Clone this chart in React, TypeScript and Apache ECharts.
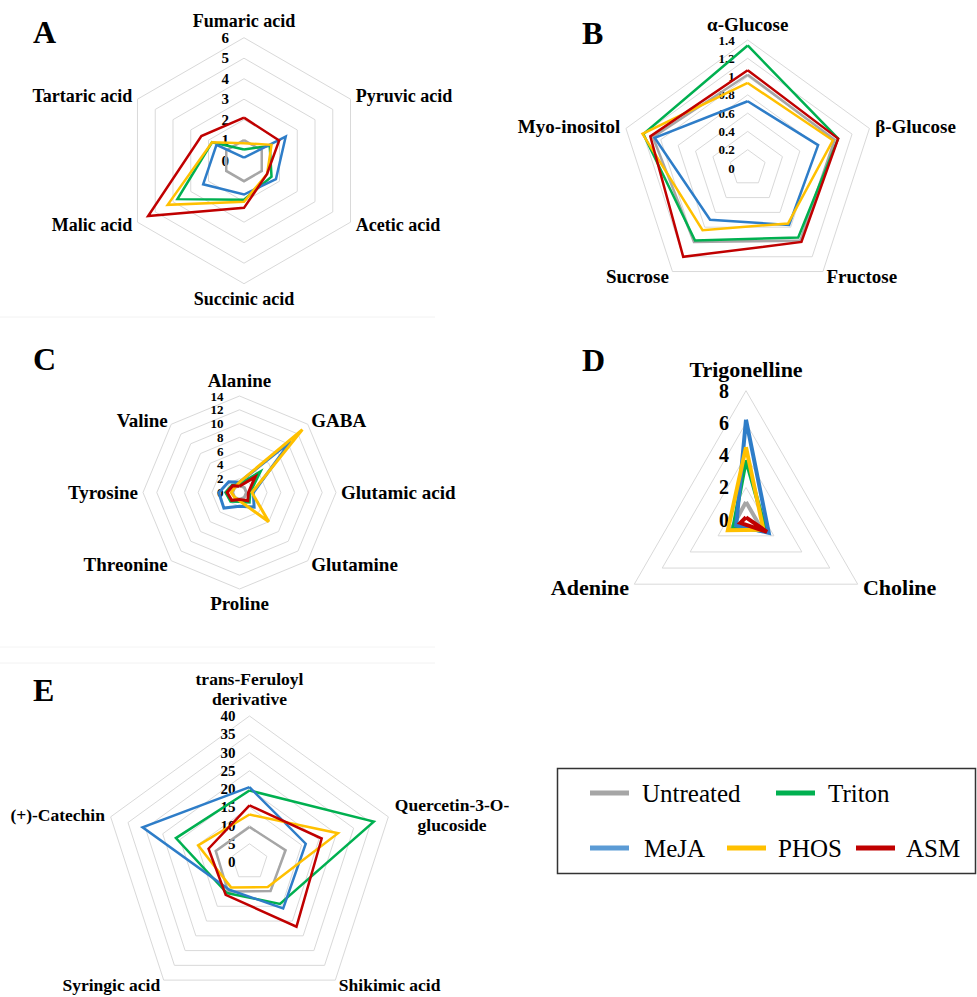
import React, { useEffect, useRef } from 'react';
import * as echarts from 'echarts';

const FONT = "'Liberation Serif', 'Times New Roman', serif";

const SERIES_NAMES = ['Untreated', 'Triton', 'MeJA', 'PHOS', 'ASM'];
const COLORS = ['#A6A6A6', '#00B050', '#2E7DC8', '#FFC000', '#C00000'];
const LEGEND_COLORS = ['#A6A6A6', '#00B050', '#5B9BD5', '#FFC000', '#C00000'];

// Panel A – organic acids (clockwise from top)
const CATS_A = ['Fumaric acid', 'Pyruvic acid', 'Acetic acid', 'Succinic acid', 'Malic acid', 'Tartaric acid'];
const A_UNTREATED = [1, 1, 1, 1, 1, 1];
const A_TRITON = [0.55, 1.45, 1.55, 1.9, 3.75, 1.8];
const A_MEJA = [0.15, 2.35, 1.8, 1.65, 2.3, 1.55];
const A_PHOS = [0.85, 1.55, 1.3, 2.0, 4.3, 1.8];
const A_ASM = [2.1, 1.98, 1.3, 2.3, 5.4, 2.4];

// Panel B – sugars
const CATS_B = ['α-Glucose', 'β-Glucose', 'Fructose', 'Sucrose', 'Myo-inositol'];
const B_UNTREATED = [1.02, 1.0, 0.98, 1.0, 1.09];
const B_TRITON = [1.34, 1.04, 0.94, 0.98, 1.2];
const B_MEJA = [0.73, 0.81, 0.77, 0.7, 1.07];
const B_PHOS = [0.93, 0.98, 0.75, 0.84, 1.21];
const B_ASM = [1.07, 1.04, 1.0, 1.2, 1.12];

// Panel C – amino acids
const CATS_C = ['Alanine', 'GABA', 'Glutamic acid', 'Glutamine', 'Proline', 'Threonine', 'Tyrosine', 'Valine'];
const C_UNTREATED = [1, 1, 1, 1, 1, 1, 1, 1];
const C_TRITON = [1.2, 4.2, 1.5, 2.0, 1.3, 1.8, 2.0, 1.5];
const C_MEJA = [1.5, 10.5, 2.0, 3.0, 2.0, 3.2, 3.0, 2.2];
const C_PHOS = [1.5, 12.9, 1.8, 6.0, 1.2, 1.0, 1.2, 1.0];
const C_ASM = [0.9, 3.2, 1.3, 1.7, 1.0, 1.6, 1.8, 1.4];

// Panel D
const CATS_D = ['Trigonelline', 'Choline', 'Adenine'];
const D_UNTREATED = [1.1, 1.1, 1.0];
const D_TRITON = [3.7, 1.45, 0.9];
const D_MEJA = [6.2, 1.63, 0.7];
const D_PHOS = [4.5, 1.25, 1.3];
const D_ASM = [0.15, 1.5, 0.4];

// Panel E – phenolics
const CATS_E = ['trans-Feruloyl\nderivative', 'Quercetin-3-O-glucoside', 'Shikimic acid', 'Syringic acid', '(+)-Catechin'];
const E_UNTREATED = [9.6, 10.4, 9.8, 10, 9.7];
const E_TRITON = [19.6, 35.8, 14.2, 10.5, 21.2];
const E_MEJA = [20.5, 16.2, 15.7, 9.4, 30.8];
const E_PHOS = [13, 25.5, 8.5, 8.6, 14.8];
const E_ASM = [15.5, 20.8, 21.9, 11.1, 11.8];

const PANEL_LETTERS = ['A', 'B', 'C', 'D', 'E'];

// ECharts lays indicators counter‑clockwise; reorder clockwise lists.
function ccwOrder(n: number): number[] {
  const out = [0];
  for (let i = n - 1; i >= 1; i--) out.push(i);
  return out;
}

function makeRadar(
  cats: string[], cx: number, cy: number, r: number, max: number, split: number,
  nameSize: number, tickSize: number, nameGap: number, labelMargin: number,
  lineHeight?: number
) {
  const order = ccwOrder(cats.length);
  return {
    center: [cx, cy],
    radius: r,
    startAngle: 90,
    shape: 'polygon',
    splitNumber: split,
    nameGap,
    axisName: {
      color: '#000',
      fontSize: nameSize,
      fontWeight: 'bold',
      fontFamily: FONT,
      lineHeight: lineHeight,
      formatter: (name: string) =>
        name === 'Quercetin-3-O-glucoside' ? '{q|Quercetin-3-O-}\n{q|glucoside}' : name,
      rich: {
        q: { width: 116, align: 'center', fontSize: nameSize, fontWeight: 'bold', fontFamily: FONT, color: '#000', lineHeight: lineHeight },
      },
    },
    axisLine: { show: false },
    axisTick: { show: false },
    splitLine: { show: true, lineStyle: { color: '#D9D9D9', width: 1 } },
    splitArea: { show: false },
    axisLabel: {
      show: false,
      color: '#000',
      fontSize: tickSize,
      fontWeight: 'bold',
      fontFamily: FONT,
      margin: labelMargin,
      showMinLabel: true,
      showMaxLabel: true,
      hideOverlap: false,
      formatter: (v: number) => String(parseFloat(Number(v).toFixed(2))),
    },
    indicator: order.map((k, i) => ({
      name: cats[k],
      min: 0,
      max,
      axisLabel: { show: i === 0 },
    })),
  };
}

function makeSeries(radarIndex: number, cats: string[], values: number[][], width: number) {
  const order = ccwOrder(cats.length);
  return {
    type: 'radar',
    radarIndex,
    symbol: 'none',
    silent: true,
    data: values.map((vals, s) => ({
      name: SERIES_NAMES[s],
      value: order.map((k) => vals[k]),
      lineStyle: { color: COLORS[s], width, join: 'miter' },
      itemStyle: { color: COLORS[s] },
    })),
  };
}

const LEGEND_LAYOUT = [
  { x: 590, y: 793, pad: 8 },
  { x: 776, y: 793, pad: 8 },
  { x: 590, y: 848, pad: 10 },
  { x: 727, y: 848, pad: 7 },
  { x: 856, y: 848, pad: 6 },
];

const LETTER_POS = [
  { x: 33, y: 32 },
  { x: 582, y: 33 },
  { x: 33, y: 359 },
  { x: 582, y: 360 },
  { x: 33, y: 690 },
];

export default function App() {
  const ref = useRef<HTMLDivElement>(null);

  useEffect(() => {
    if (!ref.current) return;
    const chart = echarts.init(ref.current, undefined, { renderer: 'svg' });

    const radars = [
      makeRadar(CATS_A, 244, 160.7, 123, 6, 6, 18, 15, 6, 15),
      makeRadar(CATS_B, 747.7, 168, 128, 1.4, 7, 19, 13, 6, 13),
      makeRadar(CATS_C, 239.5, 492.5, 96.5, 14, 7, 19, 13, 5, 16),
      makeRadar(CATS_D, 746, 519.7, 129, 8, 4, 22, 20, 6, 17),
      makeRadar(CATS_E, 249.5, 862, 146, 40, 8, 17.5, 15, 6, 14, 20),
    ];

    const series = [
      makeSeries(0, CATS_A, [A_UNTREATED, A_TRITON, A_MEJA, A_PHOS, A_ASM], 2.5),
      makeSeries(1, CATS_B, [B_UNTREATED, B_TRITON, B_MEJA, B_PHOS, B_ASM], 2.5),
      makeSeries(2, CATS_C, [C_UNTREATED, C_TRITON, C_MEJA, C_PHOS, C_ASM], 3),
      makeSeries(3, CATS_D, [D_UNTREATED, D_TRITON, D_MEJA, D_PHOS, D_ASM], 4),
      makeSeries(4, CATS_E, [E_UNTREATED, E_TRITON, E_MEJA, E_PHOS, E_ASM], 2.5),
    ];

    const legends = SERIES_NAMES.map((name, i) => ({
      data: [{ name, itemStyle: { color: LEGEND_COLORS[i] } }],
      left: LEGEND_LAYOUT[i].x,
      top: LEGEND_LAYOUT[i].y - 12.5,
      padding: 0,
      icon: 'rect',
      itemWidth: 39,
      itemHeight: 5,
      selectedMode: false,
      textStyle: {
        fontSize: 25,
        fontFamily: FONT,
        color: '#000',
        padding: [0, 0, 0, LEGEND_LAYOUT[i].pad],
      },
    }));

    const graphics: any[] = [
      { type: 'line', shape: { x1: 0, y1: 317, x2: 435, y2: 317 }, style: { stroke: '#F2F2F2', lineWidth: 1 }, silent: true },
      { type: 'line', shape: { x1: 0, y1: 647, x2: 435, y2: 647 }, style: { stroke: '#F4F4F4', lineWidth: 1 }, silent: true },
      { type: 'line', shape: { x1: 0, y1: 663, x2: 435, y2: 663 }, style: { stroke: '#F2F2F2', lineWidth: 1 }, silent: true },
      {
        type: 'rect',
        shape: { x: 557.5, y: 768.5, width: 418, height: 105 },
        style: { fill: 'none', stroke: '#333', lineWidth: 1.5 },
        silent: true,
      },
      ...PANEL_LETTERS.map((t, i) => ({
        type: 'text',
        x: LETTER_POS[i].x,
        y: LETTER_POS[i].y,
        silent: true,
        style: {
          text: t,
          fill: '#000',
          font: `bold 32px ${FONT}`,
          textAlign: 'left',
          textVerticalAlign: 'middle',
        },
      })),
    ];

    chart.setOption({
      animation: false,
      backgroundColor: '#fff',
      radar: radars,
      series,
      legend: legends,
      graphic: graphics,
    } as any);

    return () => chart.dispose();
  }, []);

  return (
    <div
      ref={ref}
      style={{ position: 'absolute', left: 0, top: 0, width: 977, height: 997 }}
    />
  );
}
